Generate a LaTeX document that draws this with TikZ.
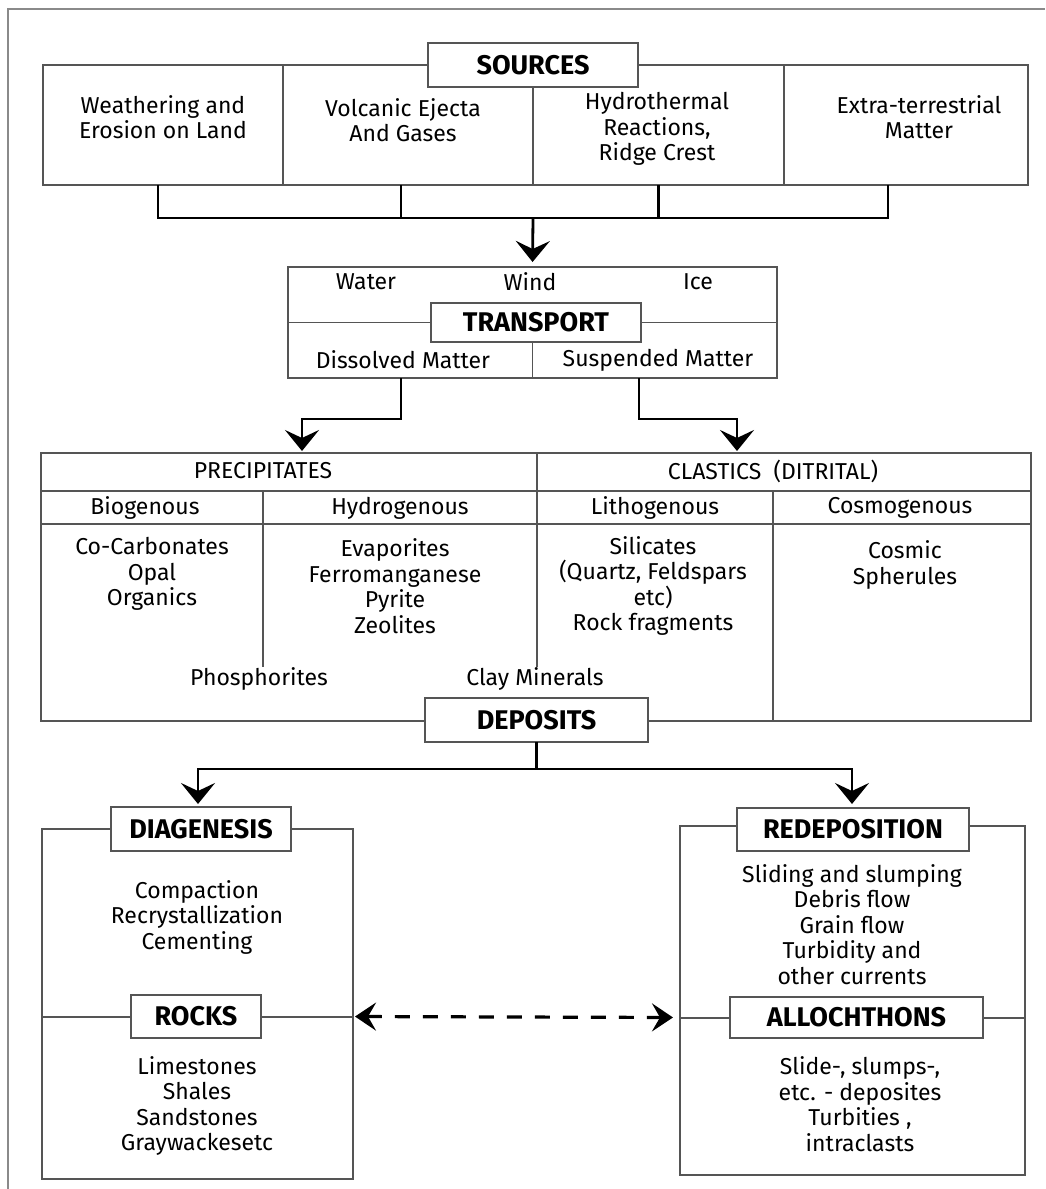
\documentclass[tikz,border=0pt]{standalone}
\usepackage{fontspec}
\setmainfont{Fira Sans}
\usetikzlibrary{arrows.meta,calc}
\definecolor{boxc}{HTML}{555555}
\definecolor{framec}{HTML}{8A8A8A}
\begin{document}
\begin{tikzpicture}[x=1pt,y=-1pt,
  cell/.style={draw=boxc,line width=1.3pt,inner sep=0pt,outer sep=0pt},
  lbl/.style={draw=boxc,line width=1.5pt,fill=white,inner sep=0pt,outer sep=0pt,font=\fontsize{27}{30}\selectfont\bfseries},
  txt/.style={align=center,inner sep=0pt,font=\fontsize{23}{25.5}\selectfont},
  divl/.style={draw=boxc,line width=1.3pt},
  conn/.style={black,line width=2.8pt},
  arr/.style={conn,-{Stealth[length=21pt,width=34pt,inset=8pt]}},
  darr/.style={conn,line width=3.2pt,dash pattern=on 15pt off 13pt,{Stealth[length=21pt,width=28pt,inset=8pt]}-{Stealth[length=21pt,width=28pt,inset=8pt]}}
]
\useasboundingbox (0,0) rectangle (1045,1189);
\draw[framec,line width=1.5pt] (8,1189) -- (8,9) -- (1045,9);

% ---------- SOURCES ----------
\node[cell,minimum width=240,minimum height=120] (s1) at (163,125) {};
\node[cell,minimum width=250,minimum height=120] (s2) at (408,125) {};
\node[cell,minimum width=251,minimum height=120] (s3) at (658.5,125) {};
\node[cell,minimum width=244,minimum height=120] (s4) at (906,125) {};
\node[lbl,minimum width=210,minimum height=44] (src) at (533,65) {SOURCES};
\node[txt] (t1) at (163,117) {Weathering and\\Erosion on Land};
\node[txt] (t2) at (403,120) {Volcanic Ejecta\\And Gases};
\node[txt] (t3) at (657,129) {Hydrothermal\\Reactions,\\Ridge Crest};
\node[txt] (t4) at (919,117) {Extra-terrestrial\\Matter};

\coordinate (j) at (533,218);
\draw[conn] ([xshift=-5pt]s1.south) -- ++(0,33) -| ([xshift=-18pt]s4.south);
\draw[conn] ([xshift=-7pt]s2.south) -- ++(0,33);
\draw[conn] (s3.south) -- ++(0,33);

% ---------- TRANSPORT ----------
\node[cell,minimum width=489,minimum height=111] (tr) at (532.5,322.5) {};
\draw[divl] (tr.west) -- (tr.east);
\node[lbl,minimum width=210,minimum height=39] (trl) at (536,322.5) {TRANSPORT};
\draw[divl] (trl.south -| tr.north) -- (tr.south);
\draw[arr,shorten >=5pt] (j) -- (tr.north);
\node[txt] (wa) at (366,282) {Water};
\node[txt] (wi) at (530,282) {Wind};
\node[txt] (ic) at (698,282) {Ice};
\node[txt] (dm) at (403,360) {Dissolved Matter};
\node[txt] (sm) at (658,360) {Suspended Matter};

% ---------- TABLE ----------
\node[cell,minimum width=990,minimum height=268] (tb) at (536,587) {};
\coordinate (pa) at (302,451);
\coordinate (ca) at (737,451);
\draw[arr] ([xshift=-131.5pt]tr.south) -- ++(0,41) -| (pa);
\draw[arr] ([xshift=106.5pt]tr.south) -- ++(0,41) -| (ca);

\draw[divl] (41,491) -- (1031,491);
\draw[divl] (41,524) -- (1031,524);
\draw[divl] (537,453) -- (537,667);
\draw[divl] (263,491) -- (263,667);
\draw[divl] (773,491) -- (773,721);

\node[txt] (prec) at (263,471) {PRECIPITATES};
\node[txt] (clas) at (773,471) {CLASTICS\ \ (DITRITAL)};
\node[txt] (bio) at (145,508) {Biogenous};
\node[txt] (hyd) at (400,508) {Hydrogenous};
\node[txt] (lit) at (655,508) {Lithogenous};
\node[txt] (cos) at (900,508) {Cosmogenous};
\node[txt] (l1) at (152,574) {Co-Carbonates\\Opal\\Organics};
\node[txt] (l2) at (395,586) {Evaporites\\Ferromanganese\\Pyrite\\Zeolites};
\node[txt] (l3) at (653,586) {Silicates\\(Quartz, Feldspars\\etc)\\Rock fragments};
\node[txt] (l4) at (905,565) {Cosmic\\Spherules};
\node[txt] (pho) at (259,679) {Phosphorites};
\node[txt] (cla) at (535,679) {Clay Minerals};

\node[lbl,minimum width=223,minimum height=44] (dep) at (536.5,720) {DEPOSITS};

% ---------- BOTTOM ----------
\coordinate (da) at (198,804);
\coordinate (ra) at (852,804);
\draw[arr] (dep.south) -- ++(0,27) -| (da);
\draw[arr] (dep.south) -- ++(0,27) -| (ra);

\node[cell,minimum width=311,minimum height=350] (lp) at (197.5,1004) {};
\draw[divl] (42,1017) -- (353,1017);
\node[lbl,minimum width=180,minimum height=44] (dia) at (201,829) {DIAGENESIS};
\node[lbl,minimum width=130,minimum height=43] (rocks) at (196,1016.5) {ROCKS};
\node[txt] (dl) at (197,917) {Compaction\\Recrystallization\\Cementing};
\node[txt] (rl) at (197,1106) {Limestones\\Shales\\Sandstones\\Graywackesetc};

\node[cell,minimum width=345,minimum height=349] (rp) at (852.5,1000.5) {};
\draw[divl] (680,1018) -- (1025,1018);
\node[lbl,minimum width=232,minimum height=43] (redep) at (853,829.5) {REDEPOSITION};
\node[lbl,minimum width=253,minimum height=41] (allo) at (856.5,1017.5) {ALLOCHTHONS};
\node[txt] (rdl) at (852,924.5) {Sliding and slumping\\Debris flow\\Grain flow\\Turbidity and\\other currents};
\node[txt] (al) at (860,1104) {Slide-, slumps-,\\etc. - deposites\\Turbities ,\\intraclasts};

\draw[darr,shorten <=2pt,shorten >=7pt] (lp.east |- rocks) -- (rp.west |- allo);
\end{tikzpicture}
\end{document}
